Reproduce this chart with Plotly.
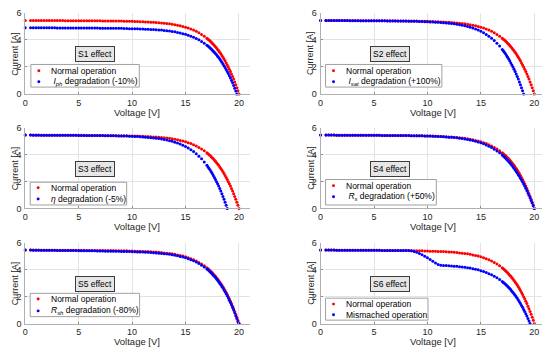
import plotly.graph_objects as go

# ---------------- data ----------------
voltage = [
    0.0,
    0.5, 0.75, 1.0, 1.25, 1.5, 1.75, 2.0, 2.25, 2.5,
    2.75, 3.0, 3.25, 3.5, 3.75, 4.0, 4.25, 4.5, 4.75, 5.0,
    5.25, 5.5, 5.75, 6.0, 6.25, 6.5, 6.75, 7.0, 7.25, 7.5,
    7.75, 8.0, 8.25, 8.5, 8.75, 9.0, 9.25, 9.5, 9.75, 10.0,
    10.25, 10.5, 10.75, 11.0, 11.25, 11.5, 11.75, 12.0, 12.25, 12.5,
    12.75, 13.0, 13.25, 13.5, 13.75, 14.0, 14.25, 14.5, 14.75, 15.0,
    15.25, 15.5, 15.75, 16.0, 16.25, 16.5, 16.75, 17.0,
    17.1, 17.2, 17.3, 17.4, 17.5, 17.6, 17.7, 17.8, 17.9, 18.0,
    18.1, 18.2, 18.3, 18.4, 18.5, 18.6, 18.7, 18.8, 18.9, 19.0,
    19.1, 19.2, 19.3, 19.4, 19.5, 19.6, 19.7, 19.8, 19.9, 20.0,
]

current_normal = [
    5.45,
    5.45, 5.45, 5.45, 5.45, 5.44, 5.44, 5.44, 5.44, 5.44,
    5.44, 5.44, 5.44, 5.44, 5.43, 5.43, 5.43, 5.43, 5.43, 5.43,
    5.43, 5.43, 5.42, 5.42, 5.42, 5.42, 5.42, 5.42, 5.41, 5.41,
    5.41, 5.41, 5.41, 5.40, 5.40, 5.40, 5.39, 5.39, 5.38, 5.38,
    5.37, 5.37, 5.36, 5.35, 5.34, 5.34, 5.32, 5.31, 5.30, 5.28,
    5.26, 5.24, 5.22, 5.20, 5.17, 5.13, 5.09, 5.05, 5.00, 4.95,
    4.88, 4.81, 4.73, 4.64, 4.53, 4.41, 4.28, 4.13,
    4.06, 3.99, 3.92, 3.84, 3.76, 3.68, 3.59, 3.50, 3.40, 3.30,
    3.20, 3.08, 2.97, 2.85, 2.72, 2.59, 2.45, 2.30, 2.15, 1.99,
    1.83, 1.66, 1.48, 1.29, 1.10, 0.89, 0.68, 0.46, 0.24, 0.00,
]

current_s1 = [
    4.90,
    4.90, 4.90, 4.90, 4.90, 4.90, 4.90, 4.90, 4.90, 4.90,
    4.90, 4.89, 4.89, 4.89, 4.89, 4.89, 4.89, 4.89, 4.89, 4.88,
    4.88, 4.88, 4.88, 4.88, 4.88, 4.88, 4.88, 4.87, 4.87, 4.87,
    4.87, 4.87, 4.86, 4.86, 4.86, 4.86, 4.85, 4.85, 4.84, 4.84,
    4.83, 4.83, 4.82, 4.81, 4.80, 4.80, 4.78, 4.77, 4.76, 4.74,
    4.73, 4.71, 4.68, 4.66, 4.63, 4.60, 4.56, 4.52, 4.47, 4.42,
    4.35, 4.28, 4.20, 4.11, 4.01, 3.89, 3.76, 3.61,
    3.55, 3.48, 3.41, 3.33, 3.25, 3.17, 3.08, 2.99, 2.90, 2.80,
    2.69, 2.58, 2.47, 2.35, 2.22, 2.09, 1.96, 1.81, 1.66, 1.51,
    1.35, 1.18, 1.00, 0.82, 0.62, 0.42, 0.22, 0.00,
]

current_s2 = [
    5.45,
    5.45, 5.45, 5.45, 5.44, 5.44, 5.44, 5.44, 5.44, 5.44,
    5.43, 5.43, 5.43, 5.43, 5.43, 5.43, 5.43, 5.43, 5.42, 5.42,
    5.42, 5.42, 5.42, 5.42, 5.41, 5.41, 5.41, 5.41, 5.41, 5.40,
    5.40, 5.40, 5.39, 5.39, 5.38, 5.38, 5.37, 5.37, 5.36, 5.35,
    5.34, 5.34, 5.32, 5.31, 5.30, 5.28, 5.26, 5.24, 5.22, 5.20,
    5.17, 5.13, 5.09, 5.05, 5.00, 4.95, 4.88, 4.81, 4.73, 4.64,
    4.53, 4.41, 4.28, 4.13, 3.96, 3.76, 3.55, 3.30,
    3.20, 3.08, 2.97, 2.85, 2.72, 2.59, 2.45, 2.30, 2.15, 1.99,
    1.83, 1.66, 1.48, 1.29, 1.10, 0.89, 0.68, 0.46, 0.24, 0.00,
]

current_s3 = [
    5.45,
    5.45, 5.44, 5.44, 5.44, 5.44, 5.44, 5.44, 5.44, 5.43,
    5.43, 5.43, 5.43, 5.43, 5.43, 5.43, 5.43, 5.43, 5.43, 5.42,
    5.42, 5.42, 5.42, 5.42, 5.42, 5.42, 5.41, 5.41, 5.41, 5.40,
    5.40, 5.40, 5.39, 5.39, 5.38, 5.38, 5.37, 5.37, 5.36, 5.35,
    5.34, 5.33, 5.32, 5.31, 5.29, 5.27, 5.25, 5.23, 5.21, 5.19,
    5.15, 5.12, 5.07, 5.03, 4.98, 4.92, 4.85, 4.78, 4.69, 4.60,
    4.48, 4.36, 4.22, 4.06, 3.88, 3.68, 3.45, 3.20,
    3.08, 2.97, 2.85, 2.72, 2.59, 2.45, 2.30, 2.15, 1.99, 1.83,
    1.66, 1.48, 1.29, 1.10, 0.89, 0.68, 0.46, 0.24, 0.00,
]

current_s4 = [
    5.45,
    5.45, 5.45, 5.45, 5.45, 5.44, 5.44, 5.44, 5.44, 5.44,
    5.44, 5.44, 5.44, 5.44, 5.43, 5.43, 5.43, 5.43, 5.43, 5.43,
    5.43, 5.43, 5.42, 5.42, 5.42, 5.42, 5.42, 5.42, 5.41, 5.41,
    5.41, 5.41, 5.41, 5.40, 5.40, 5.40, 5.39, 5.39, 5.38, 5.38,
    5.37, 5.36, 5.35, 5.34, 5.33, 5.32, 5.31, 5.29, 5.28, 5.26,
    5.24, 5.21, 5.19, 5.16, 5.12, 5.08, 5.04, 4.99, 4.93, 4.87,
    4.80, 4.71, 4.62, 4.52, 4.40, 4.27, 4.13, 3.96,
    3.89, 3.82, 3.74, 3.66, 3.57, 3.49, 3.39, 3.30, 3.20, 3.09,
    2.98, 2.87, 2.75, 2.63, 2.50, 2.39, 2.25, 2.11, 1.96, 1.81,
    1.66, 1.50, 1.33, 1.15, 0.98, 0.79, 0.60, 0.41, 0.21, 0.00,
]

current_s5 = [
    5.45,
    5.45, 5.44, 5.44, 5.44, 5.44, 5.43, 5.43, 5.43, 5.43,
    5.43, 5.42, 5.42, 5.42, 5.42, 5.41, 5.41, 5.41, 5.41, 5.40,
    5.40, 5.40, 5.40, 5.39, 5.39, 5.39, 5.38, 5.38, 5.38, 5.37,
    5.37, 5.37, 5.36, 5.36, 5.36, 5.35, 5.35, 5.34, 5.34, 5.33,
    5.32, 5.31, 5.31, 5.30, 5.29, 5.28, 5.27, 5.25, 5.24, 5.22,
    5.20, 5.18, 5.16, 5.13, 5.10, 5.06, 5.02, 4.98, 4.93, 4.87,
    4.81, 4.73, 4.65, 4.56, 4.45, 4.33, 4.20, 4.04,
    3.98, 3.91, 3.83, 3.76, 3.68, 3.59, 3.50, 3.41, 3.31, 3.21,
    3.10, 2.99, 2.88, 2.75, 2.63, 2.49, 2.35, 2.21, 2.06, 1.90,
    1.73, 1.56, 1.38, 1.19, 1.00, 0.80, 0.58, 0.37, 0.14, 0.00,
]

current_s6 = [
    5.45,
    5.45, 5.45, 5.45, 5.45, 5.44, 5.44, 5.44, 5.44, 5.44,
    5.44, 5.44, 5.44, 5.44, 5.43, 5.43, 5.43, 5.43, 5.43, 5.43,
    5.43, 5.43, 5.42, 5.42, 5.42, 5.42, 5.42, 5.42, 5.41, 5.41,
    5.41, 5.41, 5.41, 5.39, 5.35, 5.29, 5.20, 5.10, 4.99, 4.87,
    4.75, 4.62, 4.49, 4.37, 4.32, 4.31, 4.30, 4.28, 4.27, 4.25,
    4.24, 4.22, 4.19, 4.17, 4.14, 4.11, 4.07, 4.02, 3.98, 3.92,
    3.86, 3.79, 3.70, 3.61, 3.51, 3.39, 3.26, 3.11,
    3.05, 2.98, 2.91, 2.83, 2.76, 2.67, 2.59, 2.50, 2.40, 2.31,
    2.20, 2.09, 1.98, 1.87, 1.74, 1.61, 1.48, 1.34, 1.20, 1.04,
    0.89, 0.72, 0.55, 0.38, 0.19, 0.00,
]

panel_titles = ["S1 effect", "S2 effect", "S3 effect", "S4 effect", "S5 effect", "S6 effect"]
normal_label = "Normal operation"
degraded_labels = [
    " <i>I</i><sub><i>ph</i></sub> degradation (-10%)",
    " <i>I</i><sub><i>sat</i></sub> degradation (+100%)",
    "<i>η</i> degradation (-5%)",
    " <i>R</i><sub><i>s</i></sub> degradation (+50%)",
    "<i>R</i><sub><i>sh</i></sub> degradation (-80%)",
    "Mismached operation",
]
degraded_currents = [current_s1, current_s2, current_s3, current_s4, current_s5, current_s6]
x_ticks = [0, 5, 10, 15, 20]
y_ticks = [0, 2, 4, 6]
x_title = "Voltage [V]"
y_title = "Current [A]"

for c in degraded_currents + [current_normal]:
    if len(c) > len(voltage):
        raise ValueError("series longer than voltage grid")

# ---------------- layout geometry (page pixels) ----------------
PAGE_W, PAGE_H = 550, 353
OFF = 8  # default body margin of the html page
FW, FH = PAGE_W - OFF, PAGE_H - OFF
FONT = "Liberation Sans, Arial, Helvetica, sans-serif"
TXT = "#262626"
RED, BLUE = "#ff0000", "#0000ff"

col_px = [(22.3, 248.0), (319.3, 545.0)]
row_px = [(8.0, 91.3), (126.0, 209.3), (244.5, 327.8)]

# legend boxes: left, top, width, height, row1 centre, row2 centre
legend_px = [
    (28.0, 61.0, 109.0, 23.3, 67.4, 78.8),
    (324.3, 61.0, 117.0, 23.3, 67.4, 78.8),
    (27.3, 182.3, 97.0, 23.4, 188.0, 199.6),
    (324.3, 179.5, 111.4, 26.2, 185.8, 197.3),
    (27.3, 296.7, 110.0, 24.0, 302.6, 314.8),
    (324.3, 301.7, 103.0, 22.6, 307.8, 318.8),
]


def px(x):
    return min(1.0, max(0.0, (x - OFF) / FW))


def py(y):
    return min(1.0, max(0.0, 1 - (y - OFF) / FH))


fig = go.Figure()
shapes = []
annotations = []

for k in range(6):
    r, c = divmod(k, 2)
    ax = "" if k == 0 else str(k + 1)
    xa, ya = "x" + ax, "y" + ax

    fig.add_trace(go.Scatter(
        x=voltage[:len(current_normal)], y=current_normal,
        mode="markers", marker=dict(color=RED, size=3, line=dict(width=0)),
        xaxis=xa, yaxis=ya, name=normal_label, showlegend=False,
        cliponaxis=False, hoverinfo="skip"))
    cur = degraded_currents[k]
    fig.add_trace(go.Scatter(
        x=voltage[:len(cur)], y=cur,
        mode="markers", marker=dict(color=BLUE, size=3, line=dict(width=0)),
        xaxis=xa, yaxis=ya, name=degraded_labels[k], showlegend=False,
        cliponaxis=False, hoverinfo="skip"))

    x0, x1 = col_px[c]
    y0, y1 = row_px[r]
    axis_common = dict(
        showgrid=True, gridcolor="#e3e3e3", gridwidth=1,
        zeroline=False, showline=True, linecolor="#b0b0b0", linewidth=1,
        ticks="inside", ticklen=2, tickcolor="#8c8c8c",
        tickfont=dict(family=FONT, size=9, color=TXT),
        fixedrange=True,
    )
    fig.layout["xaxis" + ax] = dict(
        axis_common, domain=[px(x0), px(x1)], range=[0, 21],
        tickvals=x_ticks, anchor=ya, ticklabelstandoff=0)
    fig.layout["yaxis" + ax] = dict(
        axis_common, domain=[py(y1), py(y0)], range=[0, 6],
        tickvals=y_ticks, anchor=xa, ticklabelstandoff=1)

    # axis titles
    annotations.append(dict(
        text=x_title, xref="paper", yref="paper",
        x=px((x0 + x1) / 2), y=py(y1 + 19), xanchor="center", yanchor="middle",
        showarrow=False, font=dict(family=FONT, size=9.5, color=TXT)))
    annotations.append(dict(
        text=y_title, xref="paper", yref="paper",
        x=px(x0 - 10), y=py((y0 + y1) / 2), xanchor="center", yanchor="middle",
        textangle=-90, showarrow=False, font=dict(family=FONT, size=9, color=TXT)))

    # "Sx effect" box
    annotations.append(dict(
        text=panel_titles[k], xref=xa, yref=ya, x=6.5, y=2.95,
        xanchor="center", yanchor="middle", showarrow=False,
        bgcolor="#e6e6e6", bordercolor="#3c3c3c", borderwidth=1, borderpad=2,
        font=dict(family=FONT, size=8.5, color="#000000")))

    # legend box
    lx, lt, lw, lh, r1, r2 = legend_px[k]
    shapes.append(dict(
        type="rect", xref="paper", yref="paper",
        x0=px(lx), x1=px(lx + lw), y0=py(lt + lh), y1=py(lt),
        fillcolor="#ffffff", line=dict(color="#a0a0a0", width=1), layer="above"))
    for ry, col, lab in ((r1, RED, normal_label), (r2, BLUE, degraded_labels[k])):
        shapes.append(dict(
            type="circle", xref="paper", yref="paper",
            x0=px(lx + 8 - 1.5), x1=px(lx + 8 + 1.5),
            y0=py(ry + 1.5), y1=py(ry - 1.5),
            fillcolor=col, line=dict(color=col, width=0), layer="above"))
        annotations.append(dict(
            text=lab, xref="paper", yref="paper",
            x=px(lx + 18.5), y=py(ry), xanchor="left", yanchor="middle",
            showarrow=False, font=dict(family=FONT, size=8.5, color="#000000")))

fig.update_layout(
    width=FW, height=FH,
    margin=dict(l=0, r=0, t=0, b=0),
    paper_bgcolor="#ffffff", plot_bgcolor="#ffffff",
    showlegend=False,
    shapes=shapes, annotations=annotations,
    font=dict(family=FONT, color=TXT),
)

fig.write_html("out.html")
